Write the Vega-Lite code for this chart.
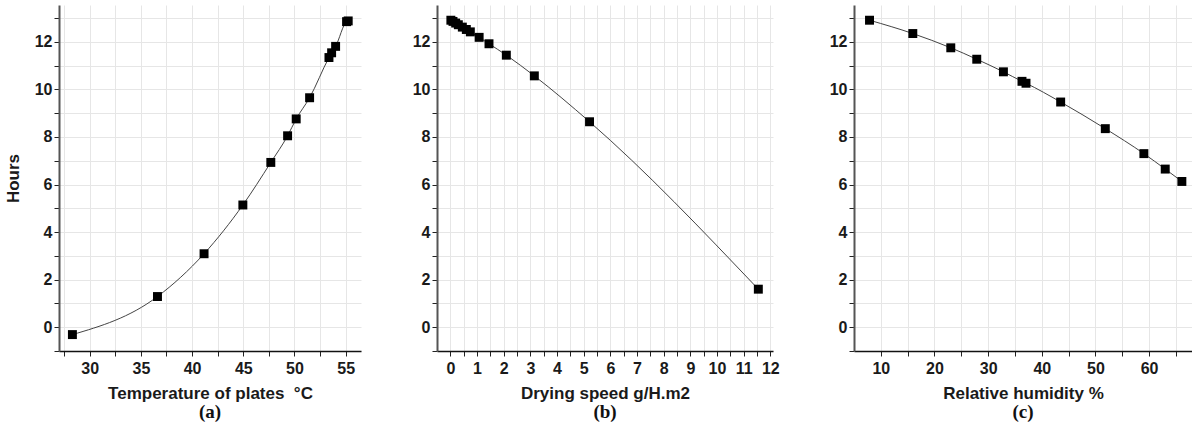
{
  "$schema": "https://vega.github.io/schema/vega-lite/v6.json",
  "padding": {"left": 4, "top": 5, "right": 0, "bottom": 0},
  "background": "white",
  "spacing": 49,
  "datasets": {
    "a": [
      {"temp": 28.31, "hours": -0.31},
      {"temp": 36.62, "hours": 1.29},
      {"temp": 41.17, "hours": 3.09},
      {"temp": 44.96, "hours": 5.14},
      {"temp": 47.69, "hours": 6.93},
      {"temp": 49.33, "hours": 8.05},
      {"temp": 50.17, "hours": 8.76},
      {"temp": 51.48, "hours": 9.65},
      {"temp": 53.37, "hours": 11.34},
      {"temp": 53.63, "hours": 11.54},
      {"temp": 54.02, "hours": 11.81},
      {"temp": 55.09, "hours": 12.85},
      {"temp": 55.25, "hours": 12.88}
    ],
    "b": [
      {"speed": 0.02, "hours": 12.91},
      {"speed": 0.1, "hours": 12.86},
      {"speed": 0.2, "hours": 12.79},
      {"speed": 0.3, "hours": 12.72},
      {"speed": 0.45, "hours": 12.62},
      {"speed": 0.6, "hours": 12.52},
      {"speed": 0.75, "hours": 12.42},
      {"speed": 1.08, "hours": 12.19},
      {"speed": 1.45, "hours": 11.92},
      {"speed": 2.1, "hours": 11.44},
      {"speed": 3.15, "hours": 10.57},
      {"speed": 5.22, "hours": 8.64},
      {"speed": 11.55, "hours": 1.6}
    ],
    "c": [
      {"rh": 7.89, "hours": 12.91},
      {"rh": 15.96, "hours": 12.35},
      {"rh": 23.04, "hours": 11.75},
      {"rh": 27.88, "hours": 11.27},
      {"rh": 32.85, "hours": 10.74},
      {"rh": 36.31, "hours": 10.34},
      {"rh": 37.06, "hours": 10.26},
      {"rh": 43.52, "hours": 9.47},
      {"rh": 51.84, "hours": 8.35},
      {"rh": 59.03, "hours": 7.3},
      {"rh": 63.01, "hours": 6.65},
      {"rh": 66.11, "hours": 6.13}
    ]
  },
  "hconcat": [
    {
      "spacing": 51,
      "hconcat": [
        {
          "width": 302,
          "height": 346,
          "data": {"name": "a"},
          "title": {"text": "(a)", "orient": "bottom", "font": "Liberation Serif", "fontWeight": "bold", "fontSize": 19, "color": "#111", "offset": 2},
          "encoding": {
            "x": {"field": "temp", "type": "quantitative",
              "scale": {"domain": [27, 56.5], "nice": false, "zero": false},
              "axis": {"title": "Temperature of plates\u00a0\u00a0°C", "values": [27.5, 30, 32.5, 35, 37.5, 40, 42.5, 45, 47.5, 50, 52.5, 55],
                "labelExpr": "datum.value % 5 == 0 ? format(datum.value, 'd') : ''"}},
            "y": {"field": "hours", "type": "quantitative",
              "scale": {"domain": [-1, 13.55], "nice": false, "zero": false},
              "axis": {"title": "Hours", "values": [-1, 0, 1, 2, 3, 4, 5, 6, 7, 8, 9, 10, 11, 12, 13],
                "labelExpr": "datum.value % 2 == 0 && datum.value >= 0 ? format(datum.value, 'd') : ''"}}
          },
          "layer": [
            {"mark": {"type": "line", "interpolate": "monotone", "color": "#444", "strokeWidth": 1}},
            {"mark": {"type": "point", "shape": "square", "filled": true, "color": "#000", "opacity": 1, "size": 80}}
          ]
        },
        {
          "width": 336,
          "height": 346,
          "data": {"name": "b"},
          "title": {"text": "(b)", "orient": "bottom", "font": "Liberation Serif", "fontWeight": "bold", "fontSize": 19, "color": "#111", "offset": 2},
          "encoding": {
            "x": {"field": "speed", "type": "quantitative",
              "scale": {"domain": [-0.5, 12.1], "nice": false, "zero": false},
              "axis": {"title": "Drying speed g/H.m2", "values": [0, 0.5, 1, 1.5, 2, 2.5, 3, 3.5, 4, 4.5, 5, 5.5, 6, 6.5, 7, 7.5, 8, 8.5, 9, 9.5, 10, 10.5, 11, 11.5, 12],
                "labelExpr": "datum.value % 1 == 0 ? format(datum.value, 'd') : ''"}},
            "y": {"field": "hours", "type": "quantitative",
              "scale": {"domain": [-1, 13.55], "nice": false, "zero": false},
              "axis": {"title": null, "values": [-1, 0, 1, 2, 3, 4, 5, 6, 7, 8, 9, 10, 11, 12, 13],
                "labelExpr": "datum.value % 2 == 0 && datum.value >= 0 ? format(datum.value, 'd') : ''"}}
          },
          "layer": [
            {"mark": {"type": "line", "interpolate": "monotone", "color": "#444", "strokeWidth": 1}},
            {"mark": {"type": "point", "shape": "square", "filled": true, "color": "#000", "opacity": 1, "size": 80}}
          ]
        }
      ]
    },
    {
      "width": 338,
      "height": 346,
      "data": {"name": "c"},
      "title": {"text": "(c)", "orient": "bottom", "font": "Liberation Serif", "fontWeight": "bold", "fontSize": 19, "color": "#111", "offset": 2},
      "encoding": {
        "x": {"field": "rh", "type": "quantitative",
          "scale": {"domain": [5, 68], "nice": false, "zero": false},
          "axis": {"title": "Relative humidity %", "values": [10, 15, 20, 25, 30, 35, 40, 45, 50, 55, 60, 65],
            "labelExpr": "datum.value % 10 == 0 ? format(datum.value, 'd') : ''"}},
        "y": {"field": "hours", "type": "quantitative",
          "scale": {"domain": [-1, 13.55], "nice": false, "zero": false},
          "axis": {"title": null, "values": [-1, 0, 1, 2, 3, 4, 5, 6, 7, 8, 9, 10, 11, 12, 13],
            "labelExpr": "datum.value % 2 == 0 && datum.value >= 0 ? format(datum.value, 'd') : ''"}}
      },
      "layer": [
        {"mark": {"type": "line", "interpolate": "monotone", "color": "#444", "strokeWidth": 1}},
        {"mark": {"type": "point", "shape": "square", "filled": true, "color": "#000", "opacity": 1, "size": 80}}
      ]
    }
  ],
  "config": {
    "view": {"stroke": null},
    "font": "Liberation Sans",
    "axis": {
      "labelFont": "Liberation Sans", "labelFontWeight": "bold", "labelFontSize": 16, "labelColor": "#1a1a1a",
      "titleFont": "Liberation Sans", "titleFontWeight": "bold", "titleFontSize": 17, "titleColor": "#1a1a1a",
      "gridColor": "#e6e6e6", "gridWidth": 1, "gridOpacity": 1,
      "tickColor": "#222", "tickSize": 5, "tickWidth": 1,
      "labelOverlap": false, "labelFlush": false
    },
    "axisX": {"domainColor": "#111", "domainWidth": 1.5, "labelPadding": 4, "titlePadding": 9},
    "axisY": {"domainColor": "#555", "domainWidth": 2, "labelPadding": 2, "titlePadding": 12}
  }
}
